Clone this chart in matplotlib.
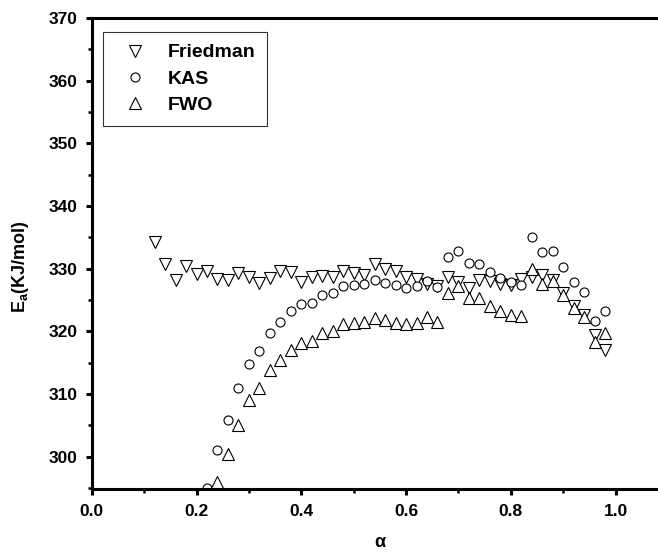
import matplotlib
matplotlib.use('Agg')
import matplotlib.pyplot as plt
from matplotlib.ticker import MultipleLocator

plt.rcParams['font.family'] = ['Liberation Sans', 'DejaVu Sans']
plt.rcParams['font.weight'] = 'bold'
plt.rcParams['mathtext.fontset'] = 'custom'
plt.rcParams['mathtext.rm'] = 'Liberation Sans:bold'
plt.rcParams['mathtext.it'] = 'Liberation Sans:bold'
plt.rcParams['mathtext.bf'] = 'Liberation Sans:bold'

# conversion (alpha) values
alpha_fr = [0.12, 0.14, 0.16, 0.18, 0.20, 0.22, 0.24, 0.26, 0.28, 0.30,
            0.32, 0.34, 0.36, 0.38, 0.40, 0.42, 0.44, 0.46, 0.48, 0.50,
            0.52, 0.54, 0.56, 0.58, 0.60, 0.62, 0.64, 0.66, 0.68, 0.70,
            0.72, 0.74, 0.76, 0.78, 0.80, 0.82, 0.84, 0.86, 0.88, 0.90,
            0.92, 0.94, 0.96, 0.98]
ea_friedman = [334.3, 330.7, 328.2, 330.4, 329.1, 329.6, 328.3, 328.2, 329.3, 328.6,
               327.7, 328.5, 329.7, 329.5, 327.9, 328.6, 328.9, 328.7, 329.6, 329.3,
               329.0, 330.7, 330.0, 329.6, 328.7, 328.4, 327.5, 327.3, 328.7, 327.8,
               327.0, 328.2, 328.1, 327.5, 327.4, 328.4, 328.6, 329.0, 328.2, 326.2,
               324.1, 322.6, 319.4, 317.1]

alpha_kas = [0.22, 0.24, 0.26, 0.28, 0.30, 0.32, 0.34, 0.36, 0.38, 0.40,
             0.42, 0.44, 0.46, 0.48, 0.50, 0.52, 0.54, 0.56, 0.58, 0.60,
             0.62, 0.64, 0.66, 0.68, 0.70, 0.72, 0.74, 0.76, 0.78, 0.80,
             0.82, 0.84, 0.86, 0.88, 0.90, 0.92, 0.94, 0.96, 0.98]
ea_kas = [295.0, 301.1, 305.9, 310.9, 314.8, 316.9, 319.8, 321.5, 323.3, 324.3,
          324.6, 325.8, 326.1, 327.2, 327.4, 327.5, 328.2, 327.7, 327.4, 327.0,
          327.3, 328.1, 327.1, 331.9, 332.9, 330.9, 330.7, 329.5, 328.5, 327.8,
          327.4, 335.1, 332.6, 332.9, 330.2, 327.9, 326.3, 321.7, 323.3]

alpha_fwo = [0.24, 0.26, 0.28, 0.30, 0.32, 0.34, 0.36, 0.38, 0.40, 0.42,
             0.44, 0.46, 0.48, 0.50, 0.52, 0.54, 0.56, 0.58, 0.60, 0.62,
             0.64, 0.66, 0.68, 0.70, 0.72, 0.74, 0.76, 0.78, 0.80, 0.82,
             0.84, 0.86, 0.88, 0.90, 0.92, 0.94, 0.96, 0.98]
ea_fwo = [295.9, 300.4, 305.1, 309.0, 311.0, 313.8, 315.4, 317.1, 318.2, 318.5,
          319.7, 320.1, 321.2, 321.3, 321.5, 322.2, 321.8, 321.4, 321.1, 321.4,
          322.3, 321.5, 326.1, 327.3, 325.4, 325.3, 324.1, 323.3, 322.6, 322.5,
          329.9, 327.6, 328.0, 325.8, 323.7, 322.3, 318.3, 319.8]

fig = plt.figure(figsize=(6.58, 5.56), dpi=100)
ax = fig.add_axes([0.1395, 0.12, 0.8605, 0.8475])

ax.plot(alpha_fr, ea_friedman, linestyle='none', marker='v', ms=8.5,
        mfc='white', mec='black', mew=0.8, label='Friedman')
ax.plot(alpha_kas, ea_kas, linestyle='none', marker='o', ms=6.5,
        mfc='white', mec='black', mew=0.8, label='KAS')
ax.plot(alpha_fwo, ea_fwo, linestyle='none', marker='^', ms=8.5,
        mfc='white', mec='black', mew=0.8, label='FWO')

ax.set_xlim(0, 1.081)
ax.set_ylim(294.8, 370)
ax.xaxis.set_major_locator(MultipleLocator(0.2))
ax.xaxis.set_minor_locator(MultipleLocator(0.1))
ax.yaxis.set_major_locator(MultipleLocator(10))
ax.yaxis.set_minor_locator(MultipleLocator(5))
ax.set_xticks([0.0, 0.2, 0.4, 0.6, 0.8, 1.0])
ax.set_xticklabels(['0.0', '0.2', '0.4', '0.6', '0.8', '1.0'])

ax.spines['right'].set_visible(False)
for s in ['left', 'bottom', 'top']:
    ax.spines[s].set_linewidth(2.2)
ax.tick_params(which='major', direction='out', length=4.5, width=2.2,
               labelsize=12.5, pad=6)
ax.tick_params(which='minor', direction='out', length=3, width=1.8)
ax.tick_params(top=False, right=False)
for lab in ax.get_xticklabels() + ax.get_yticklabels():
    lab.set_fontweight('bold')

ax.set_xlabel(r'$\alpha$', fontsize=13)
ax.xaxis.set_label_coords(0.509, -0.095)
ax.set_ylabel(r'E$_{\mathrm{a}}$(KJ/mol)', fontsize=13, fontweight='bold')
ax.yaxis.set_label_coords(-0.107, 0.472)

leg = ax.legend(loc='upper left', bbox_to_anchor=(0.02, 0.97), fontsize=14,
                frameon=True, fancybox=False, edgecolor='black',
                handletextpad=0.6, borderpad=0.6, labelspacing=0.45,
                handlelength=2.1, borderaxespad=0)
leg.get_frame().set_linewidth(0.8)
for t in leg.get_texts():
    t.set_fontweight('bold')

fig.savefig('out.png', dpi=100)
